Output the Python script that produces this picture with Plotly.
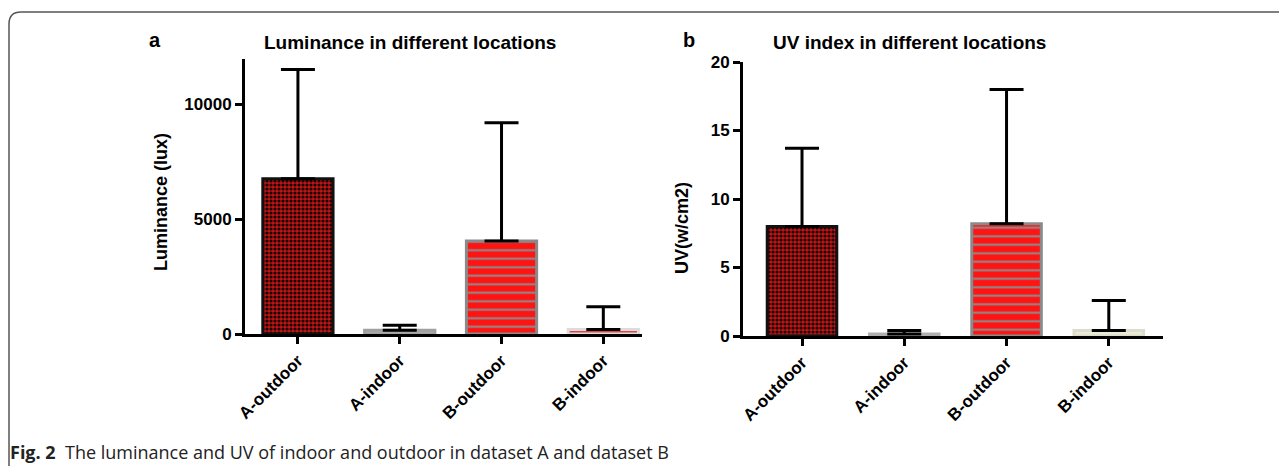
import plotly.graph_objects as go

# page body has an 8px margin; figure is sized so the page is exactly 1287x474
PAGE_W, PAGE_H = 1287, 474
OFF = 8
W, H = PAGE_W - 2 * OFF, PAGE_H - 2 * OFF

categories = ["A-outdoor", "A-indoor", "B-outdoor", "B-indoor"]
lum_mean = [6750, 160, 4040, 200]
lum_sd = [4750, 220, 5150, 980]
uv_mean = [8.0, 0.15, 8.2, 0.4]
uv_sd = [5.7, 0.25, 9.8, 2.2]
lum_ticks = [0, 5000, 10000]
uv_ticks = [0, 5, 10, 15, 20]

FONT = "Liberation Sans, Arial, sans-serif"


def px(x):
    return (x - OFF) / W


def py(y):
    return 1 - (y - OFF) / H


styles_a = [
    dict(bg="#be1616", fg="#1a0000", shape=".", size=4, sol=0.5, line="#111111"),
    dict(bg="#b0b0b0", fg="#b0b0b0", shape="", size=8, sol=0.2, line="#a0a0a0"),
    dict(bg="#ff1414", fg="#8c8c8c", shape="-", size=8.5, sol=0.24, line="#8a8a8a"),
    dict(bg="#f6dada", fg="#e03030", shape="-", size=6, sol=0.3, line="#dcdcdc"),
]
styles_b = [
    dict(bg="#be1616", fg="#1a0000", shape=".", size=4, sol=0.5, line="#111111"),
    dict(bg="#c4c4c4", fg="#c4c4c4", shape="", size=8, sol=0.2, line="#b0b0b0"),
    dict(bg="#ff1414", fg="#8c8c8c", shape="-", size=8.5, sol=0.24, line="#8a8a8a"),
    dict(bg="#e9ebd3", fg="#e9ebd3", shape="", size=8, sol=0.2, line="#dcdccc"),
]

fig = go.Figure()


def add_bars(means, sds, styles, xa, ya, width):
    for cat, m, s, st in zip(categories, means, sds, styles):
        fig.add_trace(go.Bar(
            x=[cat], y=[m], width=width,
            marker=dict(color=st["bg"], line=dict(color=st["line"], width=3),
                        pattern=dict(shape=st["shape"], fgcolor=st["fg"], bgcolor=st["bg"],
                                     size=st["size"], solidity=st["sol"], fillmode="replace")),
            error_y=dict(type="data", symmetric=False, array=[s], arrayminus=[0],
                         color="black", thickness=3, width=17),
            xaxis=xa, yaxis=ya, showlegend=False, hoverinfo="skip",
        ))


add_bars(lum_mean, lum_sd, styles_a, "x", "y", 0.69)
add_bars(uv_mean, uv_sd, styles_b, "x2", "y2", 0.68)

axis_common = dict(showgrid=False, zeroline=False, showline=True, linecolor="black",
                   linewidth=3, ticks="outside", ticklen=7, tickwidth=3, tickcolor="black",
                   automargin=False,
                   tickfont=dict(family=FONT, size=17, color="black", weight="bold"))

fig.update_layout(
    width=W, height=H,
    margin=dict(l=0, r=0, t=0, b=0, autoexpand=False),
    paper_bgcolor="white", plot_bgcolor="white",
    barmode="overlay",
    xaxis=dict(domain=[px(245), px(642)], range=[-0.52, 3.38], anchor="y",
               tickangle=-45, categoryorder="array", categoryarray=categories, **axis_common),
    yaxis=dict(domain=[py(334), py(59)], range=[0, 11960], anchor="x",
               tickvals=lum_ticks, tickformat="d", **axis_common),
    xaxis2=dict(domain=[px(743), px(1163)], range=[-0.577, 3.53], anchor="y2",
                tickangle=-45, categoryorder="array", categoryarray=categories, **axis_common),
    yaxis2=dict(domain=[py(336), py(62)], range=[0, 20], anchor="x2",
                tickvals=uv_ticks, tickformat="d", **axis_common),
)

annos = [
    dict(text="<b>a</b>", x=px(155), y=py(40), size=20),
    dict(text="<b>Luminance in different locations</b>", x=px(410), y=py(42), size=19),
    dict(text="<b>b</b>", x=px(689), y=py(40), size=20),
    dict(text="<b>UV index in different locations</b>", x=px(909), y=py(42), size=19),
]
for a in annos:
    fig.add_annotation(text=a["text"], x=a["x"], y=a["y"], xref="paper", yref="paper",
                       xanchor="center", yanchor="middle", showarrow=False,
                       font=dict(family=FONT, size=a["size"], color="black"))

fig.add_annotation(text="<b>Luminance (lux)</b>", x=px(161), y=py(202), xref="paper", yref="paper",
                   textangle=-90, showarrow=False, xanchor="center", yanchor="middle",
                   font=dict(family=FONT, size=18, color="black"))
fig.add_annotation(text="<b>UV(w/cm2)</b>", x=px(682), y=py(228), xref="paper", yref="paper",
                   textangle=-90, showarrow=False, xanchor="center", yanchor="middle",
                   font=dict(family=FONT, size=18, color="black"))

fig.add_annotation(text="<b>Fig. 2</b>  The luminance and UV of indoor and outdoor in dataset A and dataset B",
                   x=px(9), y=py(465), xref="paper", yref="paper", xanchor="left", yanchor="bottom",
                   showarrow=False, borderpad=0,
                   font=dict(family="Open Sans, sans-serif", size=18, color="#222"))

path = "M {x0},{y0} L {x0},{y1} Q {x0},{y2} {x3},{y2} L {x4},{y2}".format(
    x0=px(9), y0=py(466), y1=py(24), y2=py(12), x3=px(21), x4=px(1279))
fig.add_shape(type="path", path=path, xref="paper", yref="paper",
              line=dict(color="#555555", width=1.5))

fig.write_html("out.html", config={"displayModeBar": False})
